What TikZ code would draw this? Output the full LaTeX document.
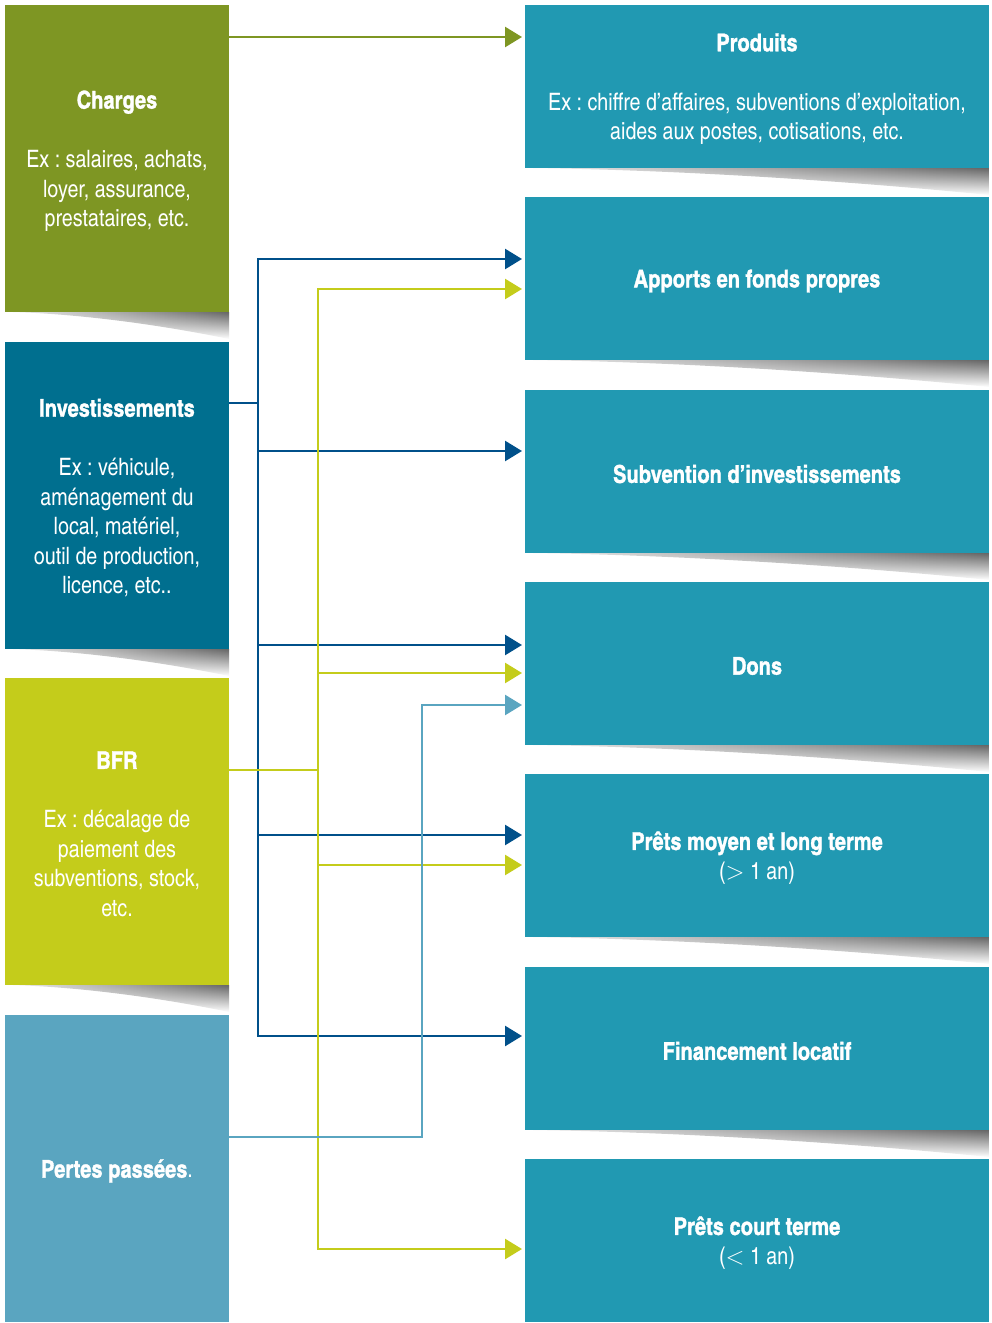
\documentclass[tikz,border=0pt]{standalone}
\usepackage{fontspec}
\setmainfont{texgyreheroscn}[Extension=.otf,UprightFont=*-regular,BoldFont=*-bold,BoldFeatures={FakeBold=1.2}]
\usetikzlibrary{arrows.meta,fadings}
\frenchspacing
\definecolor{cCharges}{RGB}{126,150,35}
\definecolor{cInv}{RGB}{0,111,143}
\definecolor{cBfr}{RGB}{196,204,27}
\definecolor{cPertes}{RGB}{90,165,192}
\definecolor{cRight}{RGB}{33,153,178}
\definecolor{cDark}{RGB}{0,80,138}
\newcommand\ttl[1]{{\fontsize{24.5}{29.5}\selectfont\textbf{#1}}}
\tikzset{
  base/.style={inner sep=0pt,outer sep=0pt},
  txt/.style={inner sep=0pt,text=white,align=center,font=\fontsize{24}{29.5}\selectfont},
  lbox/.style={base,minimum width=224pt,minimum height=307pt},
  rbox/.style={base,fill=cRight,minimum width=464pt,minimum height=163pt},
  conn/.style={line width=2.6pt,line join=miter},
  tip/.style={-{Triangle[length=17pt,width=20pt]},shorten >=3pt},
  tips/.style={{Triangle[length=17pt,width=20pt]}-{Triangle[length=17pt,width=20pt]},shorten >=3pt,shorten <=3pt},
}
% #1 node, #2 box width
\newcommand\boxshadow[2]{%
  \shade[left color=black!8,right color=black!60,path fading=south]
    ([xshift=8pt]#1.south west) -- (#1.south east) -- ([yshift=-27pt]#1.south east)
    .. controls ([xshift=-0.15*#2pt,yshift=-20pt]#1.south east) and ([xshift=0.45*#2pt,yshift=-3pt]#1.south west)
    .. ([xshift=8pt]#1.south west) -- cycle;}
\newcommand\boxtext[2]{\node[txt] (#1-t) at ([yshift=-2.5pt]#1.center) {#2};}
\begin{document}
\begin{tikzpicture}[x=1pt,y=-1pt]
\useasboundingbox (0,0) rectangle (991,1323);
% left boxes
\node[lbox,fill=cCharges] (charges) at (117,158.5) {};
\node[lbox,fill=cInv] (inv) at (117,495.5) {};
\node[lbox,fill=cBfr] (bfr) at (117,831.5) {};
\node[lbox,fill=cPertes] (pertes) at (117,1168.5) {};
% right boxes
\node[rbox] (produits) at (757,86.5) {};
\node[rbox] (apports) at (757,278.5) {};
\node[rbox] (subv) at (757,471.5) {};
\node[rbox] (dons) at (757,663.5) {};
\node[rbox] (pmlt) at (757,855.5) {};
\node[rbox] (finloc) at (757,1048.5) {};
\node[rbox] (pct) at (757,1240.5) {};
% texts
\boxtext{charges}{\ttl{Charges}\\[29.5pt]Ex : salaires, achats,\\loyer, assurance,\\prestataires, etc.}
\boxtext{inv}{\ttl{Investissements}\\[29.5pt]Ex : véhicule,\\aménagement du\\local, matériel,\\outil de production,\\licence, etc..}
\boxtext{bfr}{\ttl{BFR}\\[29.5pt]Ex : décalage de\\paiement des\\subventions, stock,\\etc.}
\boxtext{pertes}{\ttl{Pertes passées}.}
\boxtext{produits}{\ttl{Produits}\\[29.5pt]Ex : chiffre d’affaires, subventions d’exploitation,\\aides aux postes, cotisations, etc.}
\boxtext{apports}{\ttl{Apports en fonds propres}}
\boxtext{subv}{\ttl{Subvention d’investissements}}
\boxtext{dons}{\ttl{Dons}}
\boxtext{pmlt}{\ttl{Prêts moyen et long terme}\\($>$ 1 an)}
\boxtext{finloc}{\ttl{Financement locatif}}
\boxtext{pct}{\ttl{Prêts court terme}\\($<$ 1 an)}
% shadows
\foreach \b in {charges,inv,bfr}{\boxshadow{\b}{224}}
\foreach \b in {produits,apports,subv,dons,pmlt,finloc}{\boxshadow{\b}{464}}
% bus coordinates
\coordinate (busD) at (258,0);
\coordinate (busY) at (318,0);
\coordinate (busL) at (422,0);
% charges -> produits
\draw[conn,cCharges,tip] (charges.east |- 0,37) -- (produits.west |- 0,37);
% investissements
\draw[conn,cDark] (inv.east |- 0,403) -- (busD |- 0,403);
\draw[conn,cDark,tips] (apports.west |- 0,259) -- (busD |- 0,259) -- (busD |- 0,1036) -- (finloc.west |- 0,1036);
\draw[conn,cDark,tip] (busD |- 0,451) -- (subv.west |- 0,451);
\draw[conn,cDark,tip] (busD |- 0,645) -- (dons.west |- 0,645);
\draw[conn,cDark,tip] (busD |- 0,835) -- (pmlt.west |- 0,835);
% BFR
\draw[conn,cBfr] (bfr.east |- 0,770) -- (busY |- 0,770);
\draw[conn,cBfr,tips] (apports.west |- 0,289) -- (busY |- 0,289) -- (busY |- 0,1249) -- (pct.west |- 0,1249);
\draw[conn,cBfr,tip] (busY |- 0,673) -- (dons.west |- 0,673);
\draw[conn,cBfr,tip] (busY |- 0,865) -- (pmlt.west |- 0,865);
% pertes
\draw[conn,cPertes,tip] (pertes.east |- 0,1137) -- (busL |- 0,1137) -- (busL |- 0,705) -- (dons.west |- 0,705);
\end{tikzpicture}
\end{document}
